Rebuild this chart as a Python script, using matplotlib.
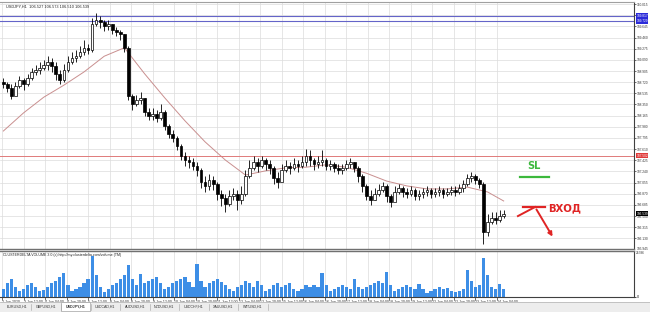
import matplotlib
matplotlib.use("Agg")
import matplotlib.pyplot as plt
from matplotlib.patches import Rectangle, FancyArrowPatch
import numpy as np

# ---------------- data (3-hour candles) ----------------
first_open = 108.72
closes = [108.69, 108.62, 108.49, 108.66, 108.76, 108.69, 108.79, 108.89, 108.92, 108.95,
          109.00, 109.05, 108.99, 108.86, 108.76, 108.92, 109.05, 109.12, 109.15, 109.22,
          109.29, 109.25, 109.68, 109.75, 109.72, 109.65, 109.68, 109.58, 109.55, 109.52,
          109.29, 108.49, 108.36, 108.42, 108.46, 108.22, 108.16, 108.19, 108.13, 108.22,
          107.99, 107.86, 107.79, 107.66, 107.50, 107.43, 107.40, 107.33, 107.26, 107.06,
          107.00, 107.10, 107.03, 106.87, 106.80, 106.70, 106.83, 106.87, 106.77, 106.87,
          107.16, 107.30, 107.40, 107.33, 107.43, 107.36, 107.30, 107.13, 107.06, 107.26,
          107.33, 107.30, 107.36, 107.33, 107.40, 107.50, 107.43, 107.36, 107.40, 107.43,
          107.33, 107.36, 107.30, 107.26, 107.30, 107.36, 107.40, 107.30, 107.16, 107.00,
          106.83, 106.77, 106.87, 106.93, 107.00, 106.83, 106.73, 106.90, 106.97, 106.90,
          106.87, 106.93, 106.83, 106.87, 106.90, 106.93, 106.87, 106.90, 106.93, 106.87,
          106.90, 106.93, 106.90, 106.97, 107.03, 107.13, 107.16, 107.10, 107.03, 106.24,
          106.40, 106.47, 106.43, 106.50, 106.53]
highs = [108.79, 108.72, 108.69, 108.72, 108.82, 108.79, 108.86, 108.95, 109.00, 109.05,
         109.09, 109.15, 109.12, 109.05, 108.92, 109.02, 109.15, 109.22, 109.25, 109.32,
         109.42, 109.35, 109.78, 109.87, 109.82, 109.75, 109.75, 109.68, 109.63, 109.58,
         109.52, 109.32, 108.52, 108.51, 108.56, 108.46, 108.29, 108.29, 108.26, 108.36,
         108.26, 108.03, 107.93, 107.83, 107.69, 107.56, 107.50, 107.46, 107.40, 107.30,
         107.16, 107.20, 107.16, 107.06, 106.93, 106.87, 106.93, 106.97, 106.93, 107.00,
         107.26, 107.43, 107.50, 107.46, 107.50, 107.46, 107.43, 107.33, 107.23, 107.36,
         107.43, 107.40, 107.46, 107.43, 107.50, 107.61, 107.60, 107.46, 107.50, 107.60,
         107.46, 107.43, 107.40, 107.36, 107.36, 107.43, 107.46, 107.40, 107.33, 107.20,
         107.03, 106.93, 106.97, 107.03, 107.06, 107.03, 106.87, 107.00, 107.03, 107.00,
         106.97, 107.00, 106.97, 106.93, 106.97, 107.00, 106.97, 106.97, 107.00, 106.97,
         106.97, 107.00, 107.00, 107.03, 107.10, 107.20, 107.23, 107.20, 107.13, 107.06,
         106.53, 106.57, 106.57, 106.60, 106.60]
lows = [108.62, 108.56, 108.44, 108.51, 108.62, 108.59, 108.66, 108.76, 108.84, 108.86,
        108.92, 108.92, 108.89, 108.76, 108.69, 108.72, 108.89, 109.02, 109.05, 109.12,
        109.17, 109.19, 109.22, 109.65, 109.62, 109.57, 109.58, 109.52, 109.49, 109.42,
        109.22, 108.42, 108.26, 108.32, 108.36, 108.16, 108.09, 108.09, 108.06, 108.09,
        107.93, 107.79, 107.73, 107.60, 107.43, 107.33, 107.30, 107.26, 107.16, 106.97,
        106.90, 106.93, 106.93, 106.77, 106.67, 106.57, 106.67, 106.77, 106.60, 106.70,
        106.83, 107.13, 107.26, 107.23, 107.30, 107.26, 107.20, 107.03, 106.97, 107.10,
        107.23, 107.20, 107.26, 107.23, 107.30, 107.33, 107.33, 107.26, 107.30, 107.33,
        107.26, 107.26, 107.23, 107.20, 107.20, 107.26, 107.30, 107.23, 107.06, 106.90,
        106.77, 106.68, 106.77, 106.83, 106.90, 106.73, 106.65, 106.77, 106.87, 106.82,
        106.80, 106.83, 106.77, 106.77, 106.80, 106.83, 106.80, 106.82, 106.83, 106.80,
        106.83, 106.85, 106.83, 106.87, 106.90, 107.00, 107.06, 107.03, 106.97, 106.04,
        106.17, 106.37, 106.37, 106.40, 106.47]
volumes = [4480, 7840, 10080, 5600, 3360, 4480, 6720, 7840, 5600, 3360,
           3920, 5600, 7840, 8960, 11200, 13440, 6720, 3360, 4480, 5600,
           7840, 10080, 22960, 12320, 5600, 2800, 4480, 6720, 7840, 10080,
           12320, 17920, 10080, 6720, 12880, 7840, 8960, 10080, 11200, 7840,
           4480, 5600, 7840, 8960, 10080, 11200, 8400, 5600, 18480, 8960,
           5600, 7840, 8960, 10080, 8400, 6720, 4480, 3360, 5600, 6720,
           8960, 7840, 5600, 8960, 6720, 3360, 4480, 6720, 7840, 5600,
           6720, 7840, 4480, 3360, 4480, 6720, 5600, 6720, 5600, 13440,
           6720, 3360, 4480, 5600, 6720, 5600, 4480, 10080, 5600, 4480,
           5600, 6720, 7840, 8960, 7840, 14000, 6720, 3360, 4480, 5600,
           6720, 5600, 4480, 7280, 4480, 2240, 3360, 4480, 5600, 4480,
           5040, 3360, 2800, 3360, 4480, 15120, 8960, 5600, 6720, 21840,
           12320, 5600, 4480, 7280, 4480]
ma_bars = [0, 5, 10, 15, 20, 25, 30, 35, 40, 45, 50, 55, 60, 65, 70, 75, 80, 85, 90,
           95, 100, 105, 110, 115, 120, 124]
ma_values = [107.91, 108.21, 108.47, 108.67, 108.89, 109.15, 109.29, 108.86, 108.46, 108.08,
             107.73, 107.43, 107.18, 107.25, 107.30, 107.31, 107.35, 107.31, 107.21,
             107.08, 107.00, 106.95, 106.95, 106.98, 106.90, 106.75]

price_ticks = [110.015, 109.830, 109.645, 109.460, 109.275, 109.090, 108.905, 108.720,
               108.535, 108.350, 108.165, 107.980, 107.795, 107.610, 107.425, 107.240,
               107.055, 106.870, 106.685, 106.500, 106.315, 106.130]
bottom_price_label = "105.945"
time_ticks_h1 = [0, 16, 32, 48, 64, 80, 96, 112, 128, 144, 160, 176, 192, 208, 224,
                 240, 256, 272, 288, 304, 320, 336, 352, 368]
time_labels = ["2 Jun 2020", "3 Jun 12:00", "4 Jun 04:00", "4 Jun 20:00", "5 Jun 12:00",
               "8 Jun 04:00", "8 Jun 20:00", "9 Jun 12:00", "10 Jun 04:00", "10 Jun 20:00",
               "11 Jun 12:00", "12 Jun 04:00", "12 Jun 20:00", "15 Jun 12:00", "16 Jun 04:00",
               "16 Jun 20:00", "17 Jun 12:00", "18 Jun 04:00", "18 Jun 20:00", "19 Jun 12:00",
               "22 Jun 04:00", "22 Jun 20:00", "23 Jun 12:00", "24 Jun 04:00"]
blue_levels = [109.817, 109.729]
red_level = 107.502
last_price = 106.539
header = "USDJPY,H1  106.527 106.573 106.510 106.539"
vol_header = "CLUSTERDELTA VOLUME 3.0 (c) http://my.clusterdelta.com/volume (TM)"
vol_max_label = "25786"
tabs = ["EURUSD,H1", "GBPUSD,H1", "USDJPY,H1", "USDCAD,H1", "AUDUSD,H1",
        "NZDUSD,H1", "USDCHF,H1", "XAUUSD,H1", "WTIUSD,H1"]
active_tab = 2

# annotation anchors (H1 bar index, price)
sl_text_pos = (395.5, 107.24)
sl_line = ((385.0, 406.7), 107.147)
entry_bar = ((387.4, 403.7), 106.65)
entry_leg = ((383.6, 106.50), (396.3, 106.65))
entry_arrow = ((396.3, 106.65), (410.4, 106.12))
entry_text_pos = (406.0, 106.63)

# ---------------- figure ----------------
W, H = 650, 312
fig = plt.figure(figsize=(W / 100, H / 100), dpi=100)
fig.patch.set_facecolor("white")
small = ["Liberation Sans", "DejaVu Sans"]
LBL = 2.35


def frac(x0, y0, x1, y1):
    return [x0 / W, 1 - y1 / H, (x1 - x0) / W, (y1 - y0) / H]


ax = fig.add_axes(frac(0, 2, 634, 249))
axv = fig.add_axes(frac(0, 251, 634, 297))
xlim = (-1.49, 469.9)
for a in (ax, axv):
    a.set_xlim(*xlim)
    a.set_facecolor("white")
    a.set_xticks(time_ticks_h1)
    a.grid(True, color="#dcdcdc", lw=0.5)
    a.set_axisbelow(True)
    a.spines["left"].set_visible(False)
    a.spines["right"].set_color("#404040")
    a.spines["right"].set_linewidth(0.8)

ax.set_ylim(105.954, 110.049)
ax.set_yticks(price_ticks)
ax.yaxis.tick_right()
ax.set_yticklabels([f"{p:.3f}" for p in price_ticks])
ax.tick_params(axis="y", labelsize=LBL, length=1.5, width=0.5, pad=0.6, colors="#333333")
for lab in ax.get_yticklabels():
    lab.set_family(small)
ax.tick_params(axis="x", length=0, labelbottom=False)
ax.spines["top"].set_color("#a0a0a0")
ax.spines["top"].set_linewidth(0.8)
ax.spines["bottom"].set_color("#707070")
ax.spines["bottom"].set_linewidth(1.0)

# candles
n = len(closes)
xc = np.arange(n) * 3 + 1
opens = np.array([first_open] + closes[:-1])
cl = np.array(closes)
ax.vlines(xc, lows, highs, color="black", lw=0.6, zorder=3)
bottoms = np.minimum(opens, cl)
heights = np.maximum(np.abs(cl - opens), 0.006)
faces = ["white" if c >= o else "black" for o, c in zip(opens, cl)]
ax.bar(xc, heights, bottom=bottoms, width=2.0, color=faces, edgecolor="black",
       lw=0.5, zorder=4)

# moving average
ax.plot(np.array(ma_bars) * 3 + 1, ma_values, color="#c98f8f", lw=0.7, zorder=2)

# levels
for lv in blue_levels:
    ax.axhline(lv, color="#6464c8", lw=0.8, zorder=2)
ax.axhline(red_level, color="#e07a7a", lw=0.7, zorder=2)

# highlighted price labels
trans = ax.get_yaxis_transform()
for lv, fc in [(blue_levels[0], "#2b2bd9"), (blue_levels[1], "#2b2bd9"),
               (red_level, "#e03a3a"), (last_price, "black")]:
    ax.text(1.0035, lv, f"{lv:.3f}", transform=trans, fontsize=LBL, family=small,
            color="white", va="center", ha="left", zorder=10,
            bbox=dict(boxstyle="square,pad=0.2", fc=fc, ec="none"), clip_on=False)
ax.text(1.0035, 105.954, bottom_price_label, transform=trans, fontsize=LBL, family=small,
        color="#333333", va="center", ha="left", clip_on=False)

# annotations
ax.text(*sl_text_pos, "SL", color="#3cb83c", fontsize=7, fontweight="bold",
        ha="center", va="bottom", family="DejaVu Sans")
ax.plot(sl_line[0], [sl_line[1]] * 2, color="#3cb83c", lw=1.6)
red = "#e02424"
ax.plot(entry_bar[0], [entry_bar[1]] * 2, color=red, lw=1.6)
ax.plot([entry_leg[0][0], entry_leg[1][0]], [entry_leg[0][1], entry_leg[1][1]], color=red, lw=1.4)
ax.add_patch(FancyArrowPatch(entry_arrow[0], entry_arrow[1], arrowstyle="-|>",
                             mutation_scale=6, color=red, lw=1.4))
ax.text(*entry_text_pos, "ВХОД", color=red, fontsize=7.3, fontweight="bold",
        ha="left", va="center", family="DejaVu Sans")

# header texts
fig.text(6 / W, 1 - 6.5 / H, header, fontsize=2.8, family=small, color="#222222", va="center")
fig.text(3 / W, 1 - 255 / H, vol_header, fontsize=2.6, family=small, color="#222222", va="center")

# volume pane
axv.bar(xc, volumes, width=2.4, color="#3d8ee6", lw=0)
axv.set_ylim(0, 25760)
axv.yaxis.tick_right()
axv.set_yticks([0])
axv.set_yticklabels(["0"])
axv.tick_params(axis="y", labelsize=LBL, length=1.5, width=0.5, pad=0.6)
axv.text(1.0035, 25760, vol_max_label, transform=axv.get_yaxis_transform(), fontsize=LBL,
         family=small, color="#333333", va="top", ha="left", clip_on=False)
axv.set_xticklabels(time_labels)
axv.tick_params(axis="x", labelsize=2.6, length=2, width=0.5, pad=0.5, colors="#333333")
for lab in axv.get_xticklabels():
    lab.set_ha("left")
    lab.set_family(small)
axv.spines["top"].set_color("#707070")
axv.spines["top"].set_linewidth(1.0)
axv.spines["bottom"].set_color("#404040")
axv.spines["bottom"].set_linewidth(0.8)

# tab bar
fig.patches.append(Rectangle((0, 0), 1, 10 / H, transform=fig.transFigure,
                             fc="#ededed", ec="none", zorder=0))
fig.add_artist(plt.Line2D([0, 1], [10 / H, 10 / H], transform=fig.transFigure,
                          color="#b0b0b0", lw=0.5))
tab_w = 29.5
for k, name in enumerate(tabs):
    x0 = 2 + k * tab_w
    if k == active_tab:
        fig.patches.append(Rectangle((x0 / W, 1 / H), tab_w / W, 9 / H,
                                     transform=fig.transFigure, fc="white",
                                     ec="#909090", lw=0.4))
    fig.text((x0 + tab_w / 2) / W, 5.5 / H, name, fontsize=2.6, family=small,
             color="#333333", ha="center", va="center",
             fontweight="bold" if k == active_tab else "normal")
    fig.add_artist(plt.Line2D([(x0 + tab_w) / W] * 2, [2.5 / H, 8.5 / H],
                              transform=fig.transFigure, color="#a0a0a0", lw=0.4))

fig.savefig("out.png", dpi=100, facecolor="white")
